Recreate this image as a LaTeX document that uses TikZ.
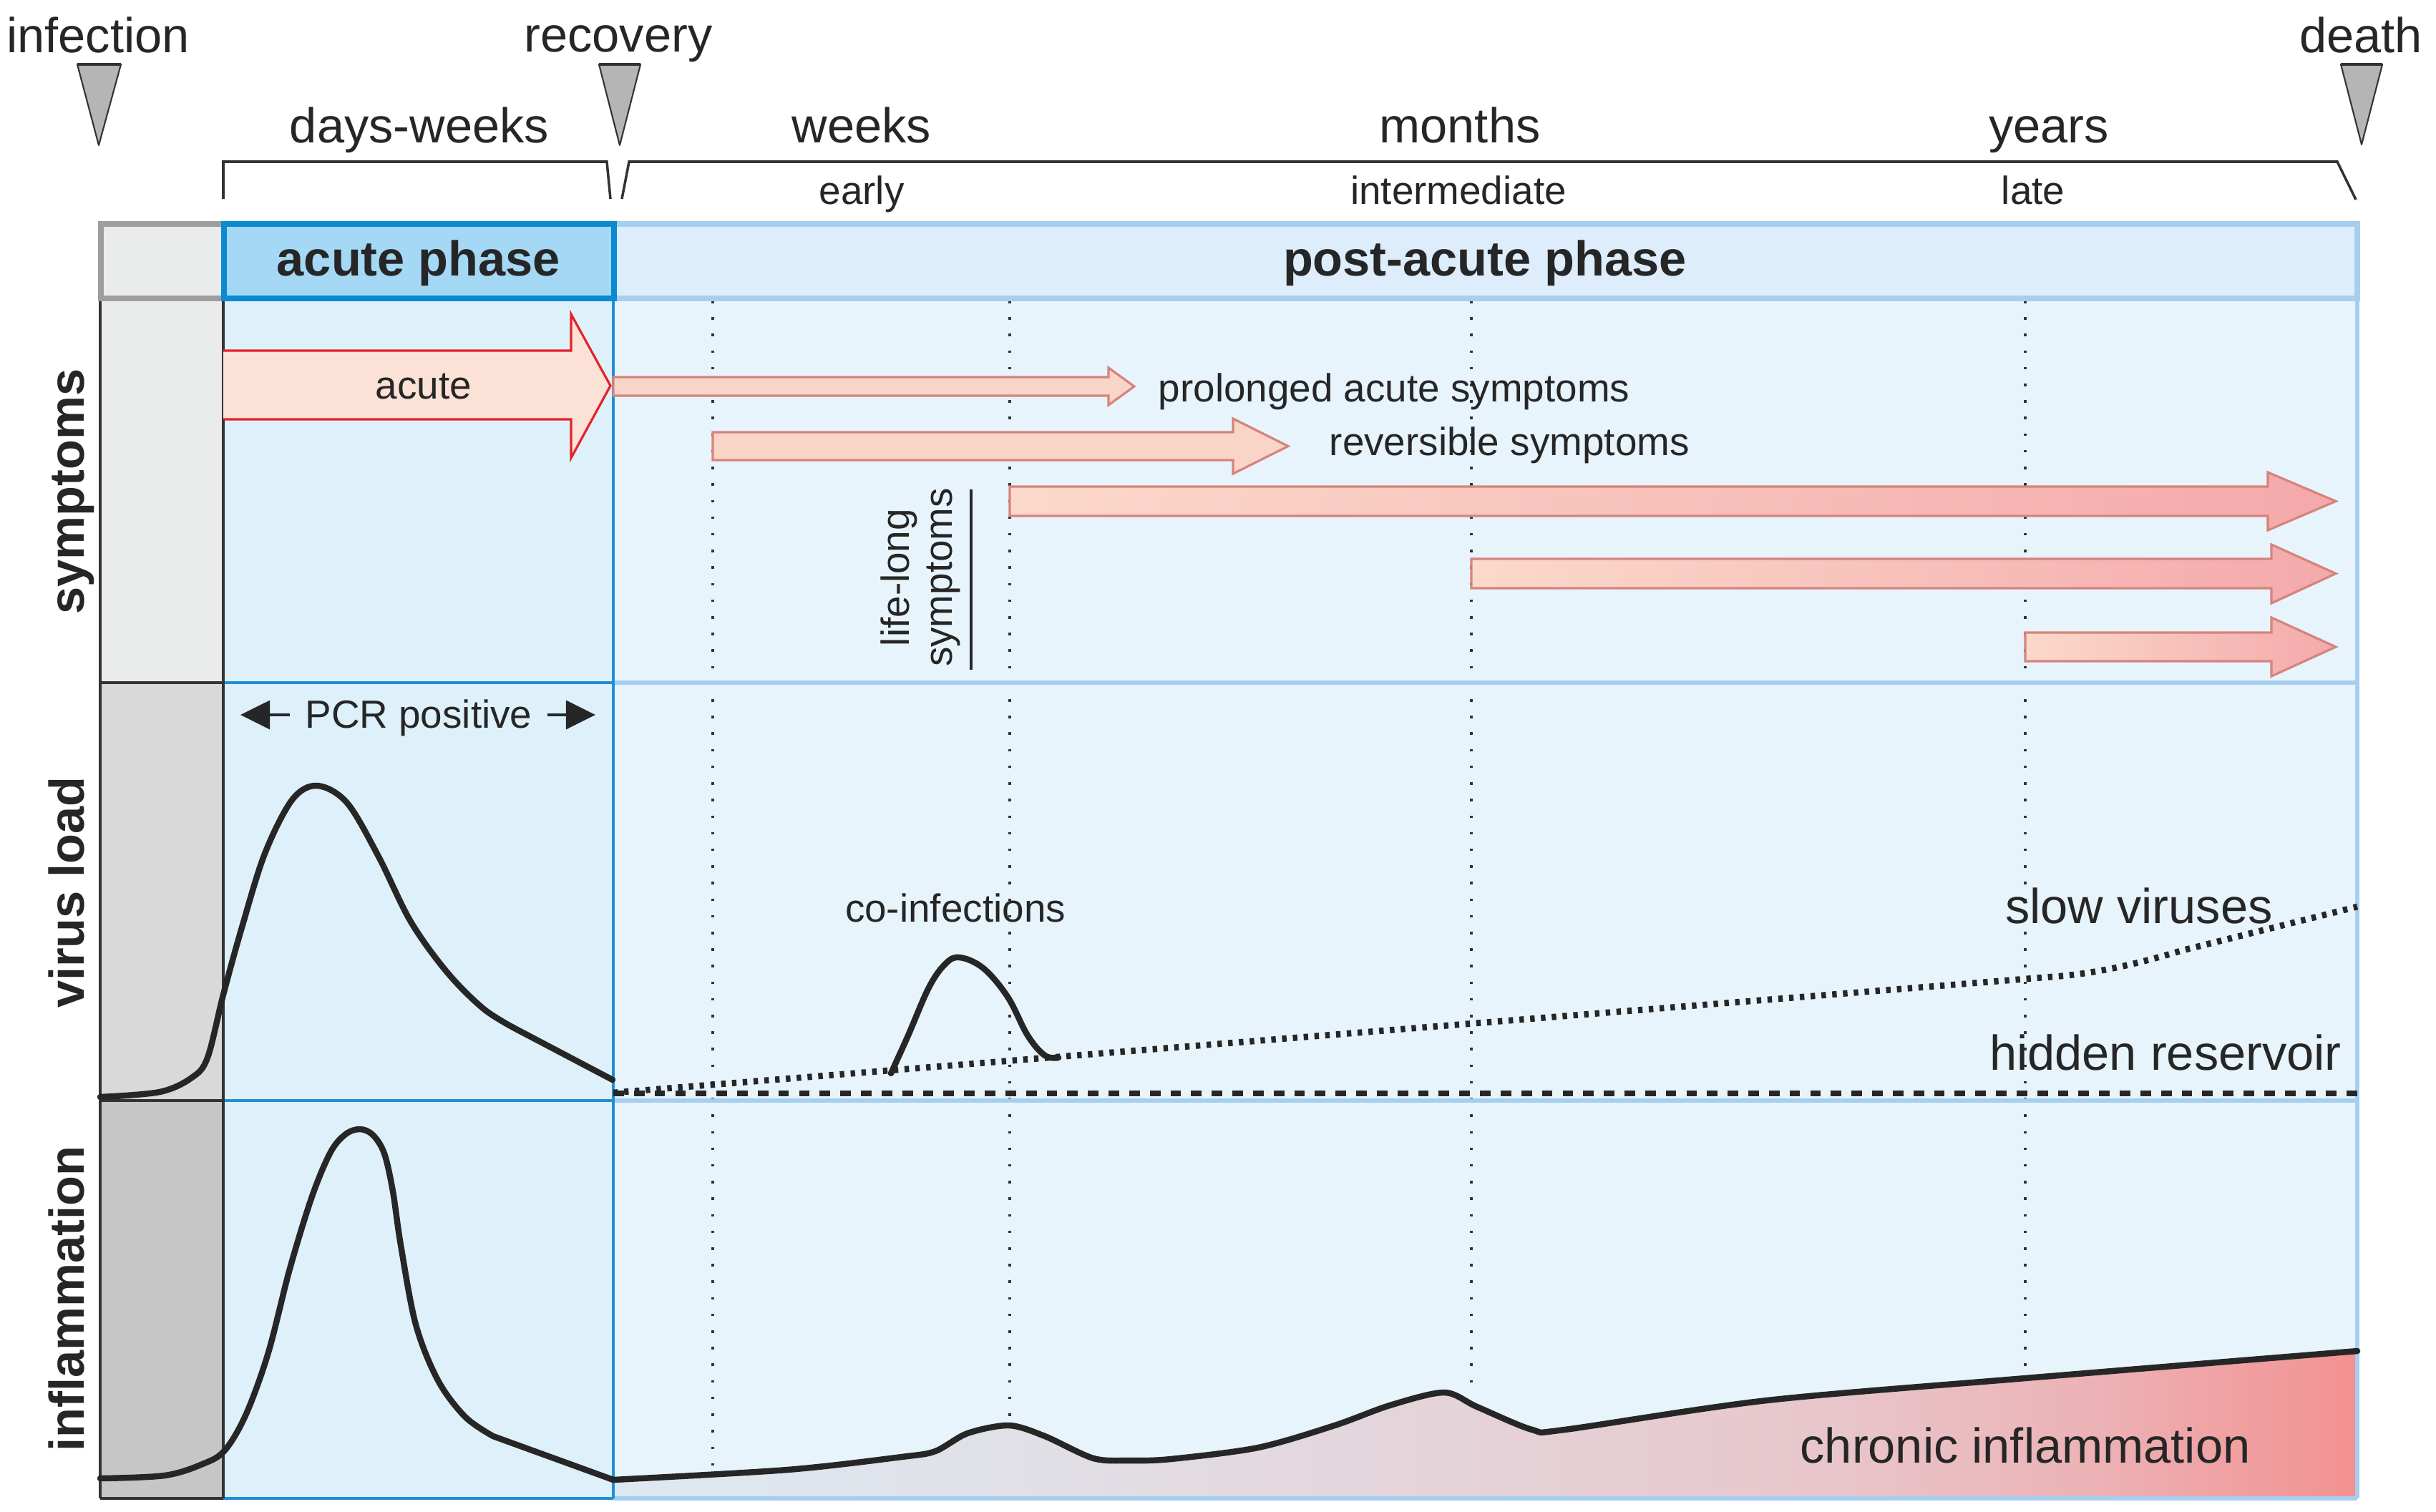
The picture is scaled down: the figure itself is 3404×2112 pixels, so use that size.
\documentclass[tikz,border=0pt]{standalone}
\usepackage{fontspec}
\setmainfont{Liberation Sans}
\usetikzlibrary{arrows.meta}
\definecolor{txt}{HTML}{262626}
\definecolor{grayA}{HTML}{EAEBEB}
\definecolor{grayB}{HTML}{D9D9D9}
\definecolor{grayC}{HTML}{C6C6C6}
\definecolor{grayBorder}{HTML}{9E9E9E}
\definecolor{darkline}{HTML}{333333}
\definecolor{acuteFill}{HTML}{DEF0F9}
\definecolor{postFill}{HTML}{E8F4FB}
\definecolor{acuteHead}{HTML}{A4D8F4}
\definecolor{acuteBorder}{HTML}{0A8AD0}
\definecolor{postHead}{HTML}{DDEDFC}
\definecolor{postBorder}{HTML}{A6CEEF}
\definecolor{blueLine}{HTML}{1E8FD6}
\definecolor{redLine}{HTML}{E3222A}
\definecolor{redFill}{HTML}{FCE1D6}
\definecolor{salFill}{HTML}{F9D5C8}
\definecolor{salLine}{HTML}{D6837D}
\definecolor{llA}{HTML}{FBD9CB}
\definecolor{llB}{HTML}{F4A9AA}
\definecolor{triFill}{HTML}{B4B5B4}
\definecolor{chA}{HTML}{DDE9F2}
\definecolor{chB}{HTML}{E1DFE6}
\definecolor{chC}{HTML}{E4D4DA}
\definecolor{chD}{HTML}{E8C6CB}
\definecolor{chE}{HTML}{ECB2B5}
\definecolor{chF}{HTML}{F39191}
\pgfdeclarehorizontalshading{chronic}{100bp}{color(0bp)=(chA); color(25bp)=(chA); color(37.5bp)=(chB); color(48.5bp)=(chC); color(60bp)=(chD); color(67.5bp)=(chE); color(75bp)=(chF); color(100bp)=(chF)}
\begin{document}
\begin{tikzpicture}[x=0.01cm,y=-0.01cm,
  lblbig/.style={font=\fontsize{19.5}{23}\selectfont, text=txt, inner sep=0pt},
  lblsmall/.style={font=\fontsize{15.6}{19}\selectfont, text=txt, inner sep=0pt},
  lblbold/.style={font=\fontsize{19.5}{23}\selectfont\bfseries, text=txt, inner sep=0pt},
  curve/.style={line width=2.4pt, draw=txt, line cap=round, line join=round},
  vdots/.style={line width=0.9pt, draw=darkline, dash pattern=on 1pt off 5.6pt},
  marker/.style={fill=triFill, draw=darkline, line width=0.6pt, line join=round},
  bracketline/.style={line width=1pt, draw=darkline, line join=miter},
  salarrow/.style={fill=salFill, draw=salLine, line width=0.9pt},
  llarrow/.style={left color=llA, right color=llB, draw=salLine, line width=0.9pt},
  pcrarrow/.style={line width=0.9pt, draw=txt, -{Triangle[length=11.7pt,width=11.4pt]}}
]
\useasboundingbox (0,0) rectangle (3404,2112);
\fill[white] (0,0) rectangle (3404,2112);

% column fills
\fill[grayA] (140,417) rectangle (312,954);
\fill[grayB] (140,954) rectangle (312,1538);
\fill[grayC] (140,1538) rectangle (312,2094);
\fill[acuteFill] (312,417) rectangle (857,2094);
\fill[postFill] (857,417) rectangle (3294,2094);

% chronic inflammation fill
\shade[shading=chronic] (857,2094) -- plot[smooth, tension=0.5] coordinates {(857,2068) (1100,2054) (1260,2036) (1307,2028) (1352,2003) (1410,1992) (1460,2007) (1528,2038) (1580,2041) (1636,2039) (1758,2023) (1865,1992) (1942,1964) (2018,1946) (2064,1966) (2141,1998) (2186,1998) (2469,1957) (2830,1926) (3294,1888)} -- (3294,2094) -- cycle;

% vertical dotted lines
\foreach \x/\e in {996/2050,1411/1983,2056/1936,2830/1913}
  \draw[vdots] (\x,420) -- (\x,\e);

% row and column lines
\draw[postBorder, line width=1.5pt] (857,954) -- (3294,954) (857,1538) -- (3294,1538) (857,2094) -- (3294,2094) (3294,417) -- (3294,2094);
\draw[blueLine, line width=1.1pt] (312,954) -- (857,954) (312,1538) -- (857,1538) (312,2094) -- (857,2094) (857,417) -- (857,2094);
\draw[darkline, line width=1.3pt] (140,954) -- (312,954) (140,1538) -- (312,1538) (140,2094) -- (312,2094);
\draw[darkline, line width=1pt] (140,417) -- (140,2094) (312,417) -- (312,2094);

% header boxes
\draw[postBorder, fill=postHead, line width=2.3pt] (858,313) rectangle (3294,417);
\draw[grayBorder, fill=grayA, line width=2.3pt] (141,313) rectangle (313,417);
\draw[acuteBorder, fill=acuteHead, line width=2.3pt] (313,313) rectangle (858,417);
\node[lblbold, anchor=base] (hacute) at (585,385) {acute phase};
\node[lblbold, anchor=base] (hpost) at (2075,385) {post-acute phase};

% row labels
\node[lblbold, rotate=90, anchor=base] (rs) at (117,687) {symptoms};
\node[lblbold, rotate=90, anchor=base] (rv) at (117,1247) {virus load};
\node[lblbold, rotate=90, anchor=base] (ri) at (117,1815) {inflammation};

% top labels
\node[lblbig, anchor=base] (inf) at (137,73) {infection};
\node[lblbig, anchor=base] (rec) at (864,72) {recovery};
\node[lblbig, anchor=base] (dth) at (3299,73) {death};
\node[lblbig, anchor=base] (dw) at (586,199) {days-weeks};
\node[lblbig, anchor=base] (wk) at (1204,199) {weeks};
\node[lblbig, anchor=base] (mo) at (2040,199) {months};
\node[lblbig, anchor=base] (yr) at (2863,199) {years};
\node[lblsmall, anchor=base] (ea) at (1204,285) {early};
\node[lblsmall, anchor=base] (im) at (2038,285) {intermediate};
\node[lblsmall, anchor=base] (lt) at (2841,285) {late};

% markers
\draw[marker] (108,90) -- (169,90) -- (138,203) -- cycle;
\draw[marker] (837,90) -- (895,90) -- (866,203) -- cycle;
\draw[marker] (3271,90) -- (3329,90) -- (3300,202) -- cycle;
\draw[darkline, line width=1.3pt] (108,90) -- (169,90) (837,90) -- (895,90) (3271,90) -- (3329,90);

% brackets
\draw[bracketline] (312,278) -- (312,226) -- (848,226) -- (853,278);
\draw[bracketline] (869,278) -- (879,226) -- (3266,226) -- (3292,279);

% acute arrow
\fill[redFill] (312,490) -- (798,490) -- (798,439) -- (853,539) -- (798,640) -- (798,586) -- (312,586) -- cycle;
\draw[redLine, line width=0.9pt, line join=miter] (312,490) -- (798,490) -- (798,439) -- (853,539) -- (798,640) -- (798,586) -- (312,586);
\node[lblsmall, anchor=base] (tacute) at (592,557) {acute};

% prolonged and reversible arrows
\draw[salarrow] (857,527) -- (1549,527) -- (1549,514) -- (1585,540) -- (1549,566) -- (1549,553) -- (857,553) -- cycle;
\node[lblsmall, anchor=base west] (tprol) at (1618,561) {prolonged acute symptoms};
\draw[salarrow] (996,604) -- (1723,604) -- (1723,585) -- (1800,623.5) -- (1723,662) -- (1723,643) -- (996,643) -- cycle;
\node[lblsmall, anchor=base west] (trev) at (1857,636) {reversible symptoms};

% life-long arrows
\draw[llarrow] (1411,680) -- (3169,680) -- (3169,660) -- (3264,700.5) -- (3169,741) -- (3169,721) -- (1411,721) -- cycle;
\draw[llarrow] (2056,781) -- (3174,781) -- (3174,761) -- (3264,801.5) -- (3174,843) -- (3174,822) -- (2056,822) -- cycle;
\draw[llarrow] (2830,884) -- (3174,884) -- (3174,863) -- (3264,904) -- (3174,945) -- (3174,924) -- (2830,924) -- cycle;
\node[lblsmall, rotate=90, anchor=base] (ll1) at (1270,807) {life-long};
\node[lblsmall, rotate=90, anchor=base] (ll2) at (1330,807) {symptoms};
\coordinate (ruleT) at (1357,684);
\coordinate (ruleB) at (1357,936);
\draw[txt, line width=0.9pt] (ruleT) -- (ruleB);

% virus load
\node[lblsmall, anchor=base, inner xsep=6pt, inner ysep=0pt] (pcr) at (585,1017) {PCR positive};
\coordinate (pcrL) at (336,999);
\coordinate (pcrR) at (832,999);
\draw[pcrarrow] (pcr.west |- pcrL) -- (pcrL);
\draw[pcrarrow] (pcr.east |- pcrR) -- (pcrR);

\draw[curve] plot[smooth, tension=0.55] coordinates {(140,1533) (223,1526) (268,1506) (290,1478) (312,1390) (338,1296) (370,1193) (408,1118) (443,1098) (485,1122) (529,1197) (574,1288) (625,1359) (676,1410) (721,1438)} -- (856,1509);

\draw[line width=2.5pt, draw=txt, dash pattern=on 1.8pt off 2.5pt] (857,1527) -- (2880,1364) .. controls (2935,1359) and (2990,1346) .. (3050,1328) -- (3294,1267);
\draw[line width=2.1pt, draw=txt, dash pattern=on 4.2pt off 4pt] (857,1528) -- (3294,1528);

\draw[curve] plot[smooth, tension=0.6] coordinates {(1245,1500) (1269,1447) (1298,1380) (1321,1347) (1341,1338) (1374,1353) (1408,1393) (1436,1447) (1460,1475) (1479,1478)};

\node[lblsmall, anchor=base] (tco) at (1335,1288) {co-infections};
\node[lblbig, anchor=base] (tslow) at (2989,1290) {slow viruses};
\node[lblbig, anchor=base] (thid) at (3026,1495) {hidden reservoir};

% inflammation
\draw[curve] plot[smooth, tension=0.55] coordinates {(140,2066) (230,2062) (283,2046) (314,2027) (344,1976) (375,1890) (405,1773) (436,1672) (462,1610) (483,1585) (503,1578) (521,1586) (537,1612) (549,1665) (560,1740) (581,1851) (612,1929) (650,1980) (689,2007)} -- (857,2068);
\draw[curve] plot[smooth, tension=0.5] coordinates {(857,2068) (1100,2054) (1260,2036) (1307,2028) (1352,2003) (1410,1992) (1460,2007) (1528,2038) (1580,2041) (1636,2039) (1758,2023) (1865,1992) (1942,1964) (2018,1946) (2064,1966) (2141,1998) (2186,1998) (2469,1957) (2830,1926) (3294,1888)};
\node[lblbig, anchor=base] (tchr) at (2830,2044) {chronic inflammation};
\end{tikzpicture}
\end{document}
